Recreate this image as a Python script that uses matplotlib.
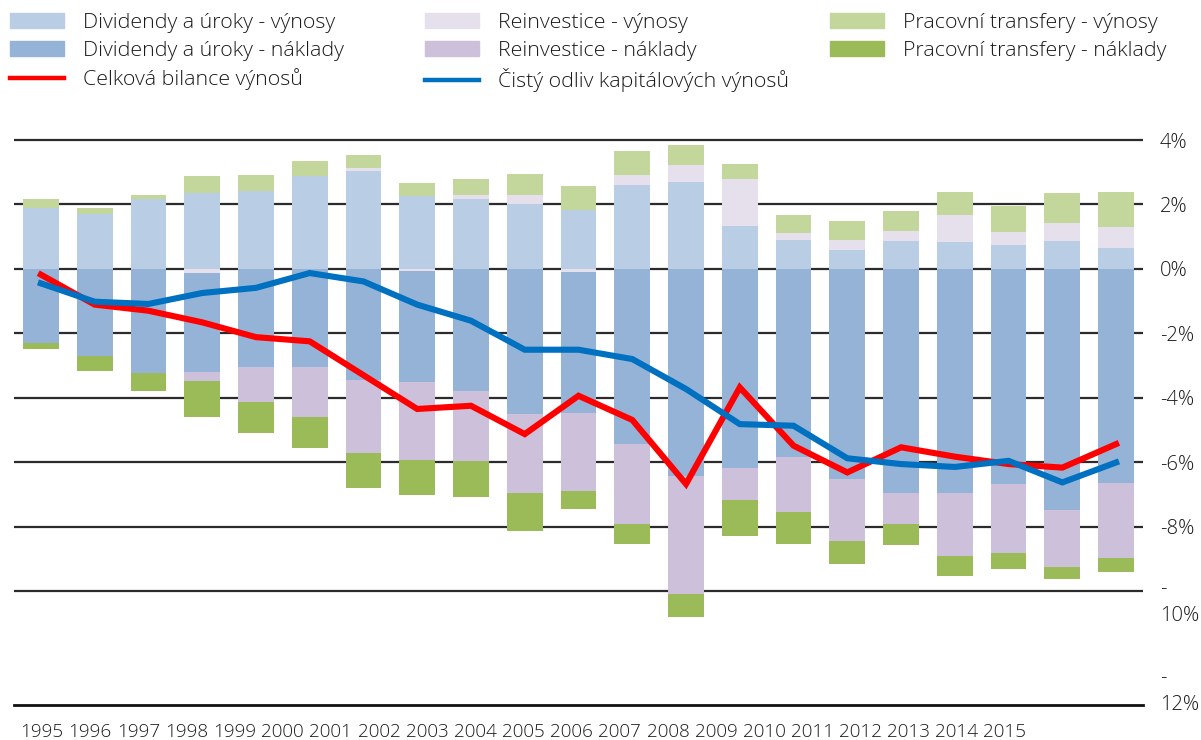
import numpy as np
import matplotlib
matplotlib.use("Agg")
import matplotlib.pyplot as plt
from matplotlib.patches import Patch
from matplotlib.lines import Line2D
from matplotlib.transforms import blended_transform_factory

# ---------------- data (% of GDP) ----------------
years = [str(y) for y in range(1995, 2016)]

div_vynosy = [1.90, 1.71, 2.16, 2.35, 2.41, 2.88, 3.04, 2.26, 2.16, 2.00, 1.84,
              2.59, 2.69, 1.33, 0.91, 0.60, 0.85, 0.83, 0.75, 0.85, 0.65]
reinv_vynosy = [0.00, 0.00, 0.00, -0.13, 0.00, 0.00, 0.10, -0.07, 0.14, 0.28, -0.10,
                0.33, 0.52, 1.45, 0.21, 0.31, 0.34, 0.85, 0.38, 0.58, 0.65]
prac_vynosy = [0.28, 0.18, 0.12, 0.53, 0.51, 0.47, 0.38, 0.40, 0.50, 0.65, 0.72,
               0.74, 0.64, 0.47, 0.56, 0.57, 0.60, 0.70, 0.81, 0.92, 1.08]
div_naklady = [-2.30, -2.72, -3.24, -3.08, -3.06, -3.06, -3.45, -3.45, -3.78, -4.51, -4.36,
               -5.44, -6.42, -6.17, -5.83, -6.53, -6.96, -6.97, -6.68, -7.48, -6.66]
reinv_naklady = [0.00, 0.00, 0.00, -0.28, -1.06, -1.53, -2.28, -2.42, -2.18, -2.46, -2.43,
                 -2.47, -3.68, -1.01, -1.71, -1.92, -0.95, -1.94, -2.13, -1.79, -2.33]
prac_naklady = [-0.19, -0.44, -0.54, -1.10, -0.98, -0.97, -1.06, -1.08, -1.11, -1.16, -0.55,
                -0.62, -0.71, -1.11, -0.99, -0.70, -0.66, -0.62, -0.50, -0.37, -0.41]
celkova_bilance = [-0.18, -1.11, -1.30, -1.66, -2.12, -2.25, -3.30, -4.35, -4.25, -5.13, -3.94,
                   -4.69, -6.68, -3.68, -5.49, -6.32, -5.54, -5.83, -6.06, -6.17, -5.44]
cisty_odliv = [-0.45, -1.02, -1.09, -0.75, -0.59, -0.13, -0.39, -1.11, -1.61, -2.51, -2.51,
               -2.80, -3.73, -4.82, -4.87, -5.88, -6.06, -6.15, -5.96, -6.63, -6.01]

y_ticks = [4, 2, 0, -2, -4, -6, -8]
y_tick_labels = ["4%", "2%", "0%", "-2%", "-4%", "-6%", "-8%"]

# ---------------- style ----------------
plt.rcParams["font.family"] = ["Open Sans", "DejaVu Sans"]
plt.rcParams["font.weight"] = "light"
TXT = "#1a1a1a"
FS = 14.5
FS_LEG = 15.4

C_DIV_V = "#B9CDE5"
C_DIV_N = "#95B3D7"
C_REI_V = "#E6E0EC"
C_REI_N = "#CCC0DA"
C_PRA_V = "#C3D69B"
C_PRA_N = "#9BBB59"
C_RED = "#FF0000"
C_BLUE = "#0070C0"

W, H = 1201, 740
fig = plt.figure(figsize=(W / 100, H / 100), dpi=100)
ax_top_px, ax_bot_px, ax_l_px, ax_r_px = 138.4, 705, 14, 1143
ax = fig.add_axes([ax_l_px / W, (H - ax_bot_px) / H,
                   (ax_r_px - ax_l_px) / W, (ax_bot_px - ax_top_px) / H])

n = len(years)
x = np.arange(n)
series = [
    (div_vynosy, C_DIV_V),
    (reinv_vynosy, C_REI_V),
    (prac_vynosy, C_PRA_V),
    (div_naklady, C_DIV_N),
    (reinv_naklady, C_REI_N),
    (prac_naklady, C_PRA_N),
]
pos = np.zeros(n)
neg = np.zeros(n)
for vals, color in series:
    v = np.asarray(vals, dtype=float)
    bottom = np.where(v >= 0, pos, neg)
    ax.bar(x, v, width=0.665, bottom=bottom, color=color, linewidth=0, zorder=2)
    pos += np.where(v >= 0, v, 0)
    neg += np.where(v < 0, v, 0)

ax.plot(x, celkova_bilance, color=C_RED, lw=4.4, zorder=3, solid_joinstyle="miter")
ax.plot(x, cisty_odliv, color=C_BLUE, lw=4.4, zorder=4, solid_joinstyle="miter")

ax.set_xlim(-0.5, n - 0.5)
ax.set_ylim(-13.54, 4.05)
ax.set_axisbelow(True)

# horizontal grid
ax.set_yticks(y_ticks + [-10])
ax.set_yticklabels(y_tick_labels + [""])
ax.yaxis.grid(True, color="#2b2b2b", lw=1.6)
ax.yaxis.tick_right()
ax.tick_params(axis="y", length=0, pad=12, labelsize=FS, labelcolor=TXT)

for s in ["top", "left", "right"]:
    ax.spines[s].set_visible(False)
ax.spines["bottom"].set_color("#111111")
ax.spines["bottom"].set_linewidth(2.0)

tr = blended_transform_factory(ax.transAxes, ax.transData)
lx = 1 + 17 / (ax_r_px - ax_l_px)
ax.text(lx, -10.36, "-\n10%", transform=tr, ha="left", va="center",
        fontsize=FS, color=TXT, linespacing=1.45)
ax.text(lx, -13.12, "-\n12%", transform=tr, ha="left", va="center",
        fontsize=FS, color=TXT, linespacing=1.45, clip_on=False)

# year labels (compressed row, as in the original)
label_pos = 0.0208 + 0.8956 * np.arange(n)
ax.set_xticks(label_pos)
ax.set_xticklabels(years)
ax.tick_params(axis="x", length=0, pad=13, labelsize=13.6, labelcolor=TXT)

# ---------------- legend (3 columns) ----------------
cols = [
    ([Patch(color=C_DIV_V), Patch(color=C_DIV_N), Line2D([], [], color=C_RED, lw=3.2)],
     ["Dividendy a úroky - výnosy", "Dividendy a úroky - náklady", "Celková bilance výnosů"], 10),
    ([Patch(color=C_REI_V), Patch(color=C_REI_N), Line2D([], [], color=C_BLUE, lw=3.2)],
     ["Reinvestice - výnosy", "Reinvestice - náklady", "Čistý odliv kapitálových výnosů"], 425),
    ([Patch(color=C_PRA_V), Patch(color=C_PRA_N)],
     ["Pracovní transfery - výnosy", "Pracovní transfery - náklady"], 830),
]
fpx = FS_LEG * 100 / 72
for handles, labels, xpx in cols:
    leg = fig.legend(handles, labels, loc="upper left",
                     bbox_to_anchor=(xpx / W, 1 - 13 / H), frameon=False,
                     borderpad=0, borderaxespad=0, fontsize=FS_LEG,
                     handlelength=54 / fpx, handleheight=0.68,
                     handletextpad=19 / fpx, labelspacing=0.36)
    for t in leg.get_texts():
        t.set_color(TXT)

fig.savefig("out.png", dpi=100)
